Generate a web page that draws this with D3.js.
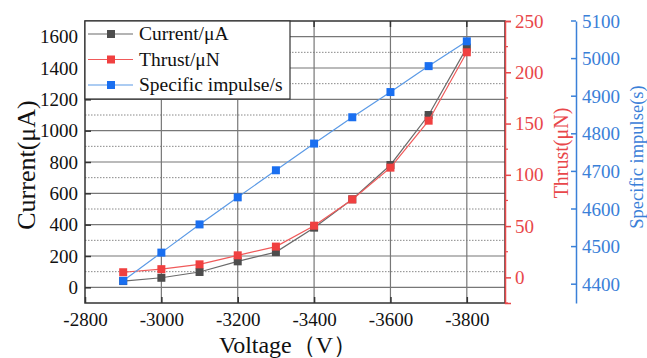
<!DOCTYPE html>
<html>
<head>
<meta charset="utf-8">
<script src="https://cdn.jsdelivr.net/npm/d3@7"></script>
<style>
  body { margin: 0; background: #fff; }
  svg { display: block; }
  svg text { font-family: "Liberation Serif", "Times New Roman", serif !important; }
</style>
</head>
<body>
<svg width="647" height="358"></svg>
<script>
var svg = d3.select('svg');

// data
var voltage = [-2900, -3000, -3100, -3200, -3300, -3400, -3500, -3600, -3700, -3800];
var current = [40, 61, 98, 166, 225, 381, 562, 781, 1100, 1530];
var thrust = [5, 8, 12.7, 21.5, 30, 50.4, 76, 107, 152.8, 219.5];
var impulse = [4409, 4484, 4559, 4631, 4703, 4774, 4844, 4911, 4980, 5046];

var xTicks = [-2800, -3000, -3200, -3400, -3600, -3800];
var currentTicks = [0, 200, 400, 600, 800, 1000, 1200, 1400, 1600];
var currentMinor = [100, 300, 500, 700, 900, 1100, 1300, 1500];
var thrustTicks = [0, 50, 100, 150, 200, 250];
var thrustMinor = [-25, 25, 75, 125, 175, 225];
var impulseTicks = [4400, 4500, 4600, 4700, 4800, 4900, 5000, 5100];

var series = [
  { name: 'Current/\u03bcA', color: '#4d4d4d', line: '#6a6a6a' },
  { name: 'Thrust/\u03bcN', color: '#f04040', line: '#f05a5a' },
  { name: 'Specific impulse/s', color: '#1a6ff0', line: '#5b9ae6' }
];

var pL = 85, pR = 505, pT = 21, pB = 303;
var red = '#e8474a', blue = '#3a80d8', dark = '#333';
var plain = function(d) { return String(d); };

var x = d3.scaleLinear().domain([-2800, -3900]).range([pL, pR]);
var yC = d3.scaleLinear().domain([-100, 1700]).range([pB, pT]);
var yT = d3.scaleLinear().domain([-25, 250]).range([pB, pT]);
var yS = d3.scaleLinear().domain([4350, 5100]).range([pB, pT]);

// grid
var grid = svg.append('g').attr('class', 'grid');
grid.selectAll('line.minor').data(currentMinor).enter().append('line')
  .attr('x1', pL).attr('x2', pR)
  .attr('y1', function(d) { return yC(d); }).attr('y2', function(d) { return yC(d); })
  .attr('stroke', '#888').attr('stroke-width', 1).attr('stroke-dasharray', '1.5,1.5');
grid.selectAll('line.hmaj').data(currentTicks).enter().append('line')
  .attr('x1', pL).attr('x2', pR)
  .attr('y1', function(d) { return yC(d); }).attr('y2', function(d) { return yC(d); })
  .attr('stroke', '#777').attr('stroke-width', 1.2);
grid.selectAll('line.vmaj').data(xTicks.slice(1)).enter().append('line')
  .attr('x1', function(d) { return x(d); }).attr('x2', function(d) { return x(d); })
  .attr('y1', pT).attr('y2', pB)
  .attr('stroke', '#777').attr('stroke-width', 1.2);

// frame
svg.append('rect').attr('x', pL).attr('y', pT)
  .attr('width', pR - pL).attr('height', pB - pT)
  .attr('fill', 'none').attr('stroke', dark).attr('stroke-width', 1.5);

// bottom axis
var xAxis = svg.append('g').attr('transform', 'translate(0,' + pB + ')')
  .call(d3.axisBottom(x).tickValues(xTicks).tickSize(-6).tickPadding(10).tickFormat(plain));
xAxis.select('.domain').remove();
xAxis.selectAll('line').attr('stroke', dark).attr('stroke-width', 1.5);
xAxis.selectAll('text').attr('font-size', 19).attr('fill', '#111');

// top ticks
svg.append('g').selectAll('line').data(xTicks.slice(1)).enter().append('line')
  .attr('x1', function(d) { return x(d); }).attr('x2', function(d) { return x(d); })
  .attr('y1', pT).attr('y2', pT + 6).attr('stroke', dark).attr('stroke-width', 1.5);

// left axis
var lAxis = svg.append('g').attr('transform', 'translate(' + pL + ',0)')
  .call(d3.axisLeft(yC).tickValues(currentTicks).tickSize(-6).tickPadding(7).tickFormat(plain));
lAxis.select('.domain').remove();
lAxis.selectAll('line').attr('stroke', dark).attr('stroke-width', 1.5);
lAxis.selectAll('text').attr('font-size', 19).attr('fill', '#111');

// thrust axis (red)
var tAxis = svg.append('g').attr('transform', 'translate(' + pR + ',0)')
  .call(d3.axisRight(yT).tickValues(thrustTicks).tickSize(6).tickPadding(4).tickFormat(plain));
tAxis.select('.domain').attr('stroke', red).attr('stroke-width', 1.5);
tAxis.selectAll('line').attr('stroke', red).attr('stroke-width', 1.5);
tAxis.selectAll('text').attr('font-size', 19).attr('fill', red);
tAxis.selectAll('line.mn').data(thrustMinor).enter().append('line')
  .attr('x1', 0).attr('x2', 3)
  .attr('y1', function(d) { return yT(d); }).attr('y2', function(d) { return yT(d); })
  .attr('stroke', red).attr('stroke-width', 1.2);

// impulse axis (blue)
var sx = 576;
var sAxis = svg.append('g').attr('transform', 'translate(' + sx + ',0)')
  .call(d3.axisRight(yS).tickValues(impulseTicks).tickSize(0).tickPadding(6).tickFormat(plain));
sAxis.select('.domain').attr('stroke', blue).attr('stroke-width', 1.5);
sAxis.selectAll('text').attr('font-size', 19).attr('fill', blue);
sAxis.selectAll('line.tk').data(impulseTicks).enter().append('line')
  .attr('x1', -5).attr('x2', 0)
  .attr('y1', function(d) { return yS(d); }).attr('y2', function(d) { return yS(d); })
  .attr('stroke', blue).attr('stroke-width', 1.5);

// series
function drawSeries(vals, y, s) {
  var pts = voltage.map(function(v, i) { return [x(v), y(vals[i])]; });
  var g = svg.append('g');
  g.append('path').datum(pts)
    .attr('d', d3.line())
    .attr('fill', 'none').attr('stroke', s.line).attr('stroke-width', 1.2);
  g.selectAll('rect').data(pts).enter().append('rect')
    .attr('x', function(d) { return d[0] - 4; }).attr('y', function(d) { return d[1] - 4; })
    .attr('width', 8).attr('height', 8).attr('fill', s.color);
}
drawSeries(current, yC, series[0]);
drawSeries(thrust, yT, series[1]);
drawSeries(impulse, yS, series[2]);

// legend
var lg = svg.append('g');
lg.append('rect').attr('x', pL).attr('y', pT).attr('width', 205).attr('height', 78)
  .attr('fill', '#fff').attr('stroke', dark).attr('stroke-width', 1.2);
series.forEach(function(s, i) {
  var ly = 34 + i * 25.5;
  lg.append('line').attr('x1', pL + 3).attr('x2', pL + 48).attr('y1', ly).attr('y2', ly)
    .attr('stroke', s.line).attr('stroke-width', 1.2);
  lg.append('rect').attr('x', pL + 22).attr('y', ly - 4).attr('width', 8).attr('height', 8)
    .attr('fill', s.color);
  lg.append('text').attr('x', pL + 54).attr('y', ly + 6).text(s.name)
    .attr('font-size', 19.5).attr('fill', '#111');
});

// titles
svg.append('text').attr('transform', 'translate(35,165) rotate(-90)')
  .attr('text-anchor', 'middle').attr('font-size', 26).attr('fill', '#111')
  .text('Current(\u03bcA)');
svg.append('text').attr('x', 288).attr('y', 353)
  .attr('text-anchor', 'middle').attr('font-size', 24).attr('fill', '#111')
  .text('Voltage\uff08V\uff09');
svg.append('text').attr('transform', 'translate(568,153) rotate(-90)')
  .attr('text-anchor', 'middle').attr('font-size', 20).attr('fill', red)
  .text('Thrust(\u03bcN)');
svg.append('text').attr('transform', 'translate(643,157) rotate(-90)')
  .attr('text-anchor', 'middle').attr('font-size', 18.5).attr('fill', blue)
  .text('Specific impulse(s)');
</script>
</body>
</html>
